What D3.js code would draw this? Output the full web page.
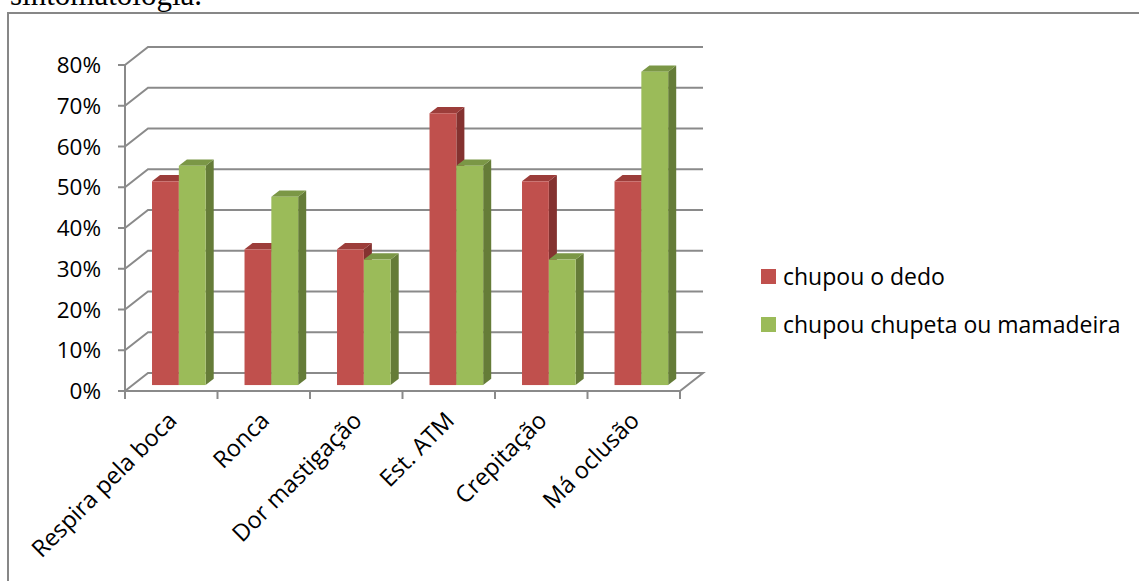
<!DOCTYPE html>
<html><head><meta charset="utf-8">
<script src="https://cdn.jsdelivr.net/npm/d3@7"></script>
<style>
html,body{margin:0;padding:0;background:#fff;overflow:hidden;}
svg{display:block;}
</style></head>
<body>
<svg id="c" width="1139" height="581"></svg>
<script>
const categories = ["Respira pela boca","Ronca","Dor mastigação","Est. ATM","Crepitação","Má oclusão"];
const seriesNames = ["chupou o dedo","chupou chupeta ou mamadeira"];
const dedo = [0.50, 0.333, 0.333, 0.667, 0.50, 0.50];
const chupeta = [0.538, 0.462, 0.308, 0.538, 0.308, 0.769];
const yTicks = [0,0.1,0.2,0.3,0.4,0.5,0.6,0.7,0.8];
const titleText = "sintomatologia.";

const svg = d3.select("#c");
const font = "'Open Sans', sans-serif";

// page title fragment and chart frame
svg.append("text").attr("x",10).attr("y",5).attr("font-family","'Liberation Serif', serif")
  .attr("font-size",31).attr("fill","#000").text(titleText);
svg.append("rect").attr("x",8).attr("y",13).attr("width",1160).attr("height",620)
  .attr("fill","none").attr("stroke","#878787").attr("stroke-width",2);

const x0 = 125, x1 = 680, yBase = 391, yTop = 65;
const DX = 23, DY = -18;
const x = d3.scaleBand().domain(categories).range([x0,x1]);
const y = d3.scaleLinear().domain([0,0.8]).range([yBase,yTop]);
const gridC = "#8a8a8a";

const g = svg.append("g");
// walls grid
yTicks.forEach(v=>{
  const yy = y(v);
  if (v===0) return;
  g.append("path").attr("d",`M${x0},${yy}L${x0+DX},${yy+DY}L${x1+DX},${yy+DY}`)
    .attr("fill","none").attr("stroke",gridC).attr("stroke-width",2);
});
// floor
g.append("path").attr("d",`M${x0},${yBase}L${x0+DX},${yBase+DY}L${x1+DX},${yBase+DY}L${x1},${yBase}Z`)
  .attr("fill","none").attr("stroke",gridC).attr("stroke-width",2);
// y axis
g.append("line").attr("x1",x0).attr("x2",x0).attr("y1",yTop).attr("y2",yBase)
  .attr("stroke",gridC).attr("stroke-width",2);
yTicks.forEach(v=>{
  g.append("line").attr("x1",x0-7).attr("x2",x0).attr("y1",y(v)).attr("y2",y(v))
    .attr("stroke",gridC).attr("stroke-width",2);
  g.append("text").attr("x",101).attr("y",y(v)).attr("dy","0.36em").attr("text-anchor","end")
    .attr("font-family",font).attr("font-size",22.5).attr("fill","#000")
    .text(d3.format(".0%")(v));
});
// x ticks
const bounds = categories.map(c=>x(c)).concat([x1]);
bounds.forEach(b=>{
  g.append("line").attr("x1",b).attr("x2",b).attr("y1",yBase).attr("y2",yBase+8)
    .attr("stroke",gridC).attr("stroke-width",2);
});

// bars
const f0 = 0.33, fd = 0.35;
const ox = DX*f0, oy = DY*f0, bdx = DX*fd, bdy = DY*fd;
const bw = x.bandwidth()*0.29;
const colors = [
  {front:"#C0504D", top:"#9C3D3A", side:"#843230"},
  {front:"#9BBB59", top:"#7B9746", side:"#657C38"}
];
const series = [dedo, chupeta];
categories.forEach((c,i)=>{
  const start = x(c) + ox + (x.bandwidth() - 2*bw)/2;
  series.forEach((vals,s)=>{
    const L = start + s*bw, R = L + bw;
    const B = yBase + oy, T = y(vals[i]) + oy;
    const col = colors[s];
    g.append("path").attr("d",`M${R},${B}L${R+bdx},${B+bdy}L${R+bdx},${T+bdy}L${R},${T}Z`).attr("fill",col.side);
    g.append("path").attr("d",`M${L},${T}L${L+bdx},${T+bdy}L${R+bdx},${T+bdy}L${R},${T}Z`).attr("fill",col.top);
    g.append("rect").attr("x",L).attr("y",T).attr("width",bw).attr("height",B-T).attr("fill",col.front);
  });
});

// x labels
categories.forEach(c=>{
  const cx = x(c) + x.bandwidth()/2 + 7;
  const cy = yBase + 31;
  g.append("text").attr("transform",`translate(${cx},${cy}) rotate(-45)`)
    .attr("text-anchor","end").attr("font-family",font).attr("font-size",23.5).attr("fill","#000")
    .text(c);
});

// legend
const lg = svg.append("g");
seriesNames.forEach((n,i)=>{
  const ly = 269 + i*48;
  lg.append("rect").attr("x",761).attr("y",ly).attr("width",15).attr("height",15).attr("fill",colors[i].front);
  lg.append("text").attr("x",783).attr("y",ly+7.5).attr("dy","0.36em").attr("font-family",font)
    .attr("font-size",23).attr("fill","#000").text(n);
});
</script>
</body></html>
